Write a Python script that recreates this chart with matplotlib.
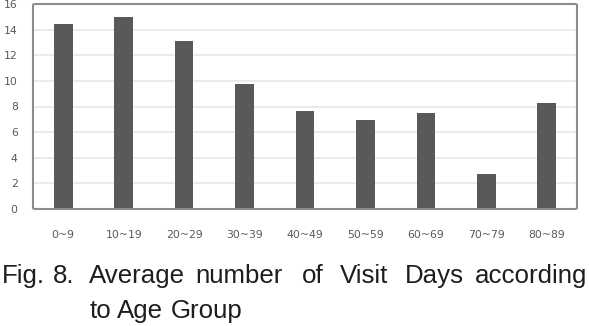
import numpy as np
import matplotlib.pyplot as plt
from matplotlib.patches import FancyBboxPatch

# Data
age_groups = ["0~9", "10~19", "20~29", "30~39", "40~49",
              "50~59", "60~69", "70~79", "80~89"]
visit_days = [14.45, 14.95, 13.1, 9.75, 7.65, 6.95, 7.5, 2.7, 8.25]
y_ticks = [0, 2, 4, 6, 8, 10, 12, 14, 16]

caption_line1 = ["Fig.", "8.", "Average", "number", "of", "Visit", "Days", "according"]
caption_line2 = ["to", "Age", "Group"]

W, H = 589, 326
fig = plt.figure(figsize=(W / 100, H / 100), dpi=100)
ax = fig.add_axes([33 / W, 1 - 209 / H, 544 / W, 205 / H])

x = np.arange(len(age_groups))
ax.bar(x, visit_days, width=0.31, color='#595959', zorder=3)

ax.set_xlim(-0.5, len(age_groups) - 0.5)
ax.set_ylim(0, 16)
ax.set_yticks(y_ticks)
ax.set_xticks(x)
ax.set_xticklabels(age_groups)
ax.tick_params(axis='both', length=0, labelsize=7.8, labelcolor='#595959')
ax.tick_params(axis='y', pad=11)
ax.tick_params(axis='x', pad=15)
ax.grid(axis='y', color='#e6e6e6', linewidth=1.2, zorder=0)

for s in ax.spines.values():
    s.set_visible(False)

# rounded grey frame around plot area
frame = FancyBboxPatch((0, 0), 1, 1, boxstyle="round,pad=0,rounding_size=0.005",
                       transform=ax.transAxes, facecolor='none',
                       edgecolor='#8c8c8c', linewidth=1.5, clip_on=False, zorder=4)
ax.add_patch(frame)

# caption, justified by word positions
cap_font = ['Liberation Sans', 'DejaVu Sans']
line1_x = [2, 53, 89, 195, 302, 340, 405, 475]
line2_x = [90, 117, 171]
for word, px in zip(caption_line1, line1_x):
    fig.text(px / W, 1 - 283 / H, word, family=cap_font, fontsize=18.6,
             color='#1e1e1e', va='baseline', ha='left')
for word, px in zip(caption_line2, line2_x):
    fig.text(px / W, 1 - 318 / H, word, family=cap_font, fontsize=18.6,
             color='#1e1e1e', va='baseline', ha='left')

fig.savefig('out.png', dpi=100)
